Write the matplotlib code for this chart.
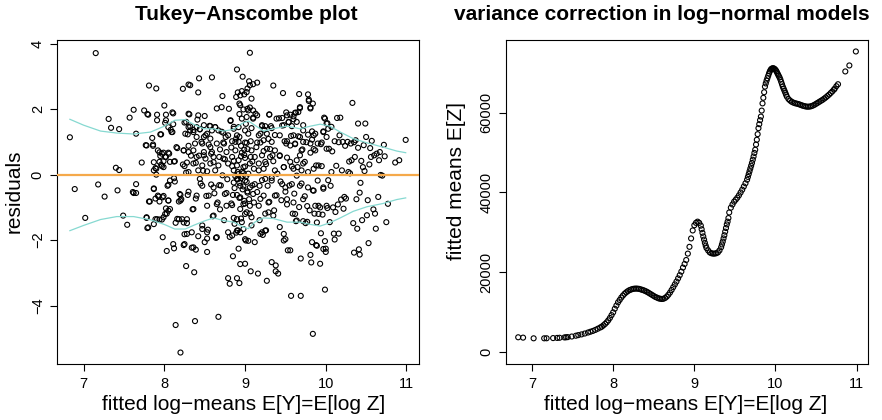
import matplotlib.pyplot as plt

plt.rcParams['font.family'] = ['Liberation Sans', 'DejaVu Sans']

# left panel: fitted log-means vs residuals
fitted_x = [
    6.83, 6.89, 7.02, 7.15, 7.18, 7.26, 7.31, 7.34, 7.40, 7.42,
    7.44, 7.44, 7.49, 7.54, 7.57, 7.62, 7.61, 7.65, 7.65, 7.65,
    7.72, 7.75, 7.77, 7.79, 7.81, 7.78, 7.79, 7.81,
    7.85, 7.86, 7.87, 7.89, 7.90, 7.91, 7.87, 7.89, 7.90, 7.91,
    7.93, 7.94, 7.95, 7.96, 7.97, 7.98, 7.99, 8.00, 8.01, 8.02,
    8.02, 8.03, 8.03, 8.05, 8.05, 8.06, 8.07, 8.08, 8.10, 8.10,
    8.11, 8.12, 8.12, 8.13, 8.14, 8.14, 8.15, 8.16, 8.18, 8.19,
    8.20, 8.21, 8.22, 8.23, 8.23, 8.24, 8.24, 8.25, 8.25, 8.26,
    8.27, 8.27, 8.28, 8.29, 8.30, 8.30, 8.31, 8.32, 8.33, 8.34,
    8.35, 8.36, 8.37, 8.38, 8.39, 8.39, 8.39, 8.41, 8.42, 8.42,
    8.43, 8.43, 8.44, 8.45, 8.46, 8.47, 8.48, 8.49, 8.50, 8.50,
    8.51, 8.52, 8.53, 8.53, 8.54, 8.56, 8.57, 8.58, 8.58, 8.59,
    8.60, 8.61, 8.62, 8.63, 8.64, 8.65, 8.66, 8.67, 8.68, 8.69,
    8.70, 8.71, 8.72, 8.72, 8.74, 8.74, 8.75, 8.76, 8.77, 8.78,
    8.79, 8.80, 8.81, 8.81, 8.82, 8.83, 8.83, 8.84, 8.85, 8.86,
    8.86, 8.87, 8.88, 8.89, 8.90, 8.90, 8.91, 8.91, 8.91, 8.92,
    8.93, 8.93, 8.93, 8.94, 8.95, 8.95, 8.96, 8.97, 8.97, 8.98,
    8.98, 8.99, 9.00, 9.00, 9.00, 9.01, 9.02, 9.02, 9.03, 9.03,
    9.04, 9.05, 9.06, 9.06, 9.07, 9.07, 9.08, 9.09, 9.10, 9.10,
    9.11, 9.11, 9.12, 9.13, 9.14, 9.15, 9.15, 9.16, 9.17, 9.18,
    9.19, 9.19, 9.21, 9.21, 9.22, 9.23, 9.24, 9.25, 9.26, 9.26,
    9.27, 9.28, 9.29, 9.30, 9.30, 9.31, 9.32, 9.33, 9.33, 9.34,
    9.35, 9.36, 9.37, 9.38, 9.38, 9.39, 9.40, 9.41, 9.42, 9.43,
    9.43, 9.44, 9.45, 9.46, 9.47, 9.48, 9.48, 9.49, 9.50, 9.51,
    9.52, 9.52, 9.53, 9.54, 9.55, 9.56, 9.57, 9.57, 9.58, 9.59,
    9.60, 9.61, 9.62, 9.62, 9.63, 9.64, 9.65, 9.66, 9.67, 9.67,
    9.68, 9.69, 9.69, 9.70, 9.71, 9.72, 9.72, 9.74, 9.74, 9.75,
    9.76, 9.77, 9.78, 9.78, 9.79, 9.80, 9.81, 9.81, 9.82, 9.83,
    9.83, 9.84, 9.84, 9.85, 9.86, 9.87, 9.88, 9.88, 9.89, 9.90,
    9.90, 9.91, 9.93, 9.94, 9.94, 9.95, 9.96, 9.97, 9.97, 9.98,
    9.99, 9.99, 10.00, 10.00, 10.01, 10.02, 10.02, 10.03, 10.04, 10.05,
    10.06, 10.07, 10.07, 10.08, 10.09, 10.10, 10.11, 10.11, 10.12, 10.13,
    10.14, 10.15, 10.16, 10.16, 10.17, 10.18, 10.19, 10.20, 10.21, 10.22,
    10.23, 10.24, 10.25, 10.27, 10.28, 10.29, 10.30, 10.31, 10.32, 10.33,
    10.34, 10.35, 10.35, 10.36, 10.37, 10.38, 10.39, 10.40, 10.40, 10.41,
    10.42, 10.42, 10.43, 10.44, 10.45, 10.46, 10.47, 10.48, 10.49, 10.50,
    10.51, 10.52, 10.53, 10.54, 10.55, 10.56, 10.57, 10.59, 10.60, 10.61,
    10.62, 10.63, 10.65, 10.66, 10.67, 10.68, 10.70, 10.72, 10.73, 10.75,
    10.77, 10.86, 10.91, 10.99,
    7.80, 8.11, 7.91, 8.02, 8.30, 8.27, 8.05, 8.11, 8.09, 8.30,
    7.96, 8.29, 7.78, 7.86, 8.16, 8.24, 8.30, 7.92, 7.99, 8.05,
    7.95, 8.01, 7.94, 7.99, 8.07, 8.13, 7.97, 8.25, 8.28, 7.90,
    7.87, 7.99, 8.30,
    8.32, 9.02, 9.06, 8.89, 8.94, 8.93, 8.98, 9.03, 9.10,
    9.15, 8.71, 8.82, 8.96, 9.02, 9.10, 8.42, 8.32, 8.40, 8.49,
    8.57, 8.63, 8.36, 8.44, 8.53, 8.59, 8.67, 8.73, 8.86, 8.92,
    9.00, 9.08, 8.40, 8.49, 8.57, 8.79, 8.90, 9.04, 9.17, 8.38,
    8.47, 8.55, 8.65, 8.73, 8.84, 8.92, 9.00, 9.15, 8.36, 8.49,
    8.59, 8.69, 8.77, 8.88, 8.96, 9.08, 8.40, 8.51, 8.61, 8.73,
    8.84, 8.92, 9.00, 9.12, 8.36, 8.47, 8.57, 8.67, 8.79, 8.90,
    8.98, 9.06, 8.42, 8.53, 8.63, 8.86, 8.96, 9.17,
    9.79, 9.84, 9.81, 9.68, 9.63, 9.66, 9.56, 9.52, 9.39, 9.46,
    9.60, 9.30, 9.54, 9.64, 9.99, 10.01, 9.97, 10.03, 9.21, 9.25,
    9.33, 9.48, 9.58, 9.72, 9.83, 9.19, 9.27, 9.43, 9.60, 9.68,
    9.78, 9.85, 9.23, 9.33, 9.52, 9.62, 9.72, 9.81, 9.95, 9.27,
    9.37, 9.51, 9.56, 9.70, 9.87, 10.01, 9.21, 9.31, 9.43, 9.68,
    9.81, 9.25, 9.35, 9.56, 9.64, 9.72, 9.91, 9.23, 9.37, 9.48,
    9.60, 9.70, 9.85,
    7.62, 7.87, 8.07, 8.12, 8.04, 7.92, 7.98, 7.82, 7.94, 8.05,
    8.20, 8.20, 8.30, 8.02, 8.05, 8.01, 7.99, 7.78, 7.89, 7.94,
    7.87, 7.80, 7.97, 8.18, 8.24, 8.28, 8.28, 8.25,
    8.44, 8.47, 8.61, 8.68, 8.75, 8.86, 8.90, 8.94, 9.00, 9.06,
    9.12, 9.18, 8.40, 8.55, 8.85, 8.94, 9.10, 8.36, 8.53, 8.65,
    8.77, 8.84, 8.98, 9.06, 9.17, 8.61, 8.90, 9.00, 9.08, 8.34,
    8.47, 8.53, 8.65, 8.79, 8.84, 8.90, 8.94, 9.00, 9.04, 9.19,
    8.36, 8.94,
    9.25, 9.33, 9.46, 9.50, 9.58, 9.68, 9.78, 9.85, 9.97, 9.23,
    9.37, 9.52, 9.60, 9.72, 9.87, 9.93, 10.01, 9.29, 9.29, 9.35,
    9.62, 9.64, 9.77, 9.91, 9.21, 9.25, 9.48, 9.50, 9.89, 9.97,
    8.88, 8.92, 8.95, 8.98, 9.01, 9.04, 8.93, 8.97, 9.03, 8.90,
    8.99, 9.05, 8.94, 9.02, 8.96, 8.87, 9.08, 8.91, 8.86, 9.09,
    8.99, 9.03, 8.95, 9.07, 8.89, 9.01, 8.93, 9.06, 8.99,
]
resid_y = [
    1.14, -0.44, -1.32, 3.71, -0.30, -0.67, 1.70, 1.43, 0.21, -0.48,
    1.39, 0.14, -1.25, -1.53, 1.74, 1.98, -0.53, -0.29, -0.56, 1.25,
    0.37, 1.96, 0.90, 1.85, 2.72, -1.32, -1.63, -0.82,
    1.12, 0.88, 0.38, 0.20, 2.63, 1.83, -0.44, -0.73, 0.00, -1.36,
    -0.67, 0.68, 1.23, 0.30, 0.64, -1.91, -0.65, 2.11, 1.58, 1.83,
    0.54, -2.33, -1.19, -0.79, -0.31, 0.64, -1.05, 1.37, 1.30, 1.90,
    -2.12, -2.25, 0.40, -0.21, -1.47, -4.59, 0.84, -1.35, -0.82, -0.59,
    -5.43, -0.75, -1.36, 2.62, 0.31, 0.74, -2.15, -1.82, 1.59, 1.25,
    0.06, -2.79, -1.48, -0.62, 2.75, 0.88, 1.84, 1.47, 0.58, -2.23,
    -1.06, 1.36, -2.98, -4.47, 0.36, -0.73, -2.29, 1.68, -1.88, 2.51,
    2.94, 0.58, 1.39, -0.27, 1.00, -1.55, 0.12, 0.59, 1.79, -2.06,
    1.20, -0.65, -2.36, -1.95, -1.68, 1.49, 0.84, 0.64, -0.30, 2.97,
    -1.27, 0.38, -0.57, 1.45, -1.93, 2.02, -0.85, -4.34, 0.54, -1.06,
    -0.33, 1.31, -0.02, 2.40, 0.95, -1.39, 0.47, 1.15, -0.56, -0.14,
    -3.16, 2.01, -3.33, -1.90, 1.64, -0.88, 0.83, 0.26, -2.49, 1.46,
    -1.32, -0.41, 1.00, -1.77, 3.21, -3.16, 2.51, -0.14, 0.08, -2.26,
    -0.71, -3.31, 1.15, 2.12, 0.56, -1.34, 2.55, 2.99, -0.04, -0.36,
    -1.66, 0.76, -2.72, 0.25, -0.88, -2.01, -0.22, 0.97, 2.63, -0.51,
    1.96, 2.85, 3.72, -1.19, 0.54, -2.95, 2.32, -0.33, 1.74, 2.76,
    -0.85, 0.18, -2.06, 1.86, 0.84, 2.81, -0.53, -3.02, 0.34, -1.39,
    0.98, -0.74, -0.17, 1.48, -1.84, 0.72, 1.37, -1.19, 0.32, -1.70,
    -3.24, -0.34, 1.09, 1.84, -0.83, 0.78, 1.48, -2.67, -0.10, 0.59,
    2.72, -1.09, 1.21, -2.95, -2.77, -0.63, 0.03, -3.02, 1.72, -1.60,
    0.57, -0.21, -0.78, 1.50, 2.49, -2.01, 0.23, 1.02, -0.52, 1.90,
    -0.91, 0.52, -2.31, 1.60, -0.33, -2.31, 1.18, -3.70, 0.25, -1.19,
    1.78, -0.58, 0.93, 1.89, -1.42, -0.03, 0.23, 1.17, -0.99, 2.46,
    2.03, -2.56, -3.70, -0.27, 0.77, -1.42, 1.35, 0.39, -0.66, -1.48,
    0.99, -0.96, 0.08, 2.45, 2.29, -1.09, 2.02, -2.45, -2.68, -2.06,
    1.07, -4.86, -0.48, 0.78, -1.19, 1.25, -2.15, 0.28, -1.46, -0.18,
    0.95, -0.95, -2.72, -1.79, 0.93, 0.26, -1.22, 1.32, -0.43, 1.74,
    -3.51, -2.03, -2.26, -2.36, 1.15, -1.02, 1.57, -0.17, 0.79, -1.45,
    -0.34, 1.46, 0.08, 0.71, -1.00, -1.80, 1.02, -1.98, -1.14, 0.27,
    1.73, -0.91, 0.99, -1.80, 1.20, 1.74, -0.76, 0.13, 1.00, -1.04,
    -0.68, 0.88, -0.73, 1.00, 0.08, 0.40, 0.04, 0.95, 0.44, 2.19,
    -1.48, 0.99, -2.38, 0.54, 1.05, -0.75, -1.65, 1.56, 0.82, -2.28,
    -2.44, -0.55, -0.25, 0.42, -1.39, 0.23, 0.90, 0.11, 1.56, 1.15,
    -1.24, -0.78, -2.09, 0.31, 0.81, 0.54, 1.03, -1.06, 0.59, -1.19,
    -1.65, 0.64, -0.68, 0.44, 0.69, -0.01, -0.03, 0.91, 0.56, -1.45,
    -0.89, 0.37, 0.44, 1.06,
    1.83, 1.87, 1.66, 1.66, 1.86, 1.61, 1.45, 1.54, 1.30, 1.45,
    1.23, 1.23, 0.89, 0.92, 0.81, 0.74, 0.69, 0.74, 0.67, 0.67,
    0.57, 0.54, 0.39, 0.41, 0.39, 0.41, 0.26, 0.26, 0.37, 0.18,
    0.13, 0.23, 0.08,
    2.73, 2.52, 2.73, 2.37, 2.42, 2.17, 1.99, 2.01, 1.96,
    1.81, 2.06, 1.66, 1.71, 1.76, 1.71, 1.81, 1.35, 1.45, 1.51,
    1.48, 1.45, 1.30, 1.38, 1.25, 1.35, 1.35, 1.28, 1.40, 1.45,
    1.35, 1.42, 1.15, 1.15, 1.10, 1.20, 1.20, 1.25, 1.20, 0.95,
    0.95, 0.92, 0.95, 0.98, 1.02, 1.00, 0.98, 0.98, 0.74, 0.69,
    0.69, 0.77, 0.69, 0.74, 0.67, 0.74, 0.54, 0.49, 0.54, 0.49,
    0.54, 0.44, 0.51, 0.54, 0.34, 0.28, 0.34, 0.28, 0.34, 0.28,
    0.23, 0.34, 0.13, 0.10, 0.13, 0.13, 0.08, 0.13,
    2.25, 2.17, 2.05, 2.06, 1.89, 1.91, 1.83, 1.81, 1.71, 1.73,
    1.69, 1.83, 1.61, 1.61, 1.71, 1.56, 1.30, 1.40, 1.51, 1.48,
    1.42, 1.51, 1.48, 1.51, 1.32, 1.25, 1.25, 1.20, 1.20, 1.15,
    1.22, 1.20, 1.05, 1.00, 1.02, 0.95, 1.00, 0.95, 0.98, 0.79,
    0.74, 0.95, 0.89, 0.74, 0.74, 0.79, 0.59, 0.54, 0.59, 0.59,
    0.67, 0.39, 0.41, 0.39, 0.44, 0.34, 0.28, 0.18, 0.13, 0.23,
    0.18, 0.13, 0.18,
    -0.56, -0.42, -0.18, -0.11, -0.34, -0.64, -0.69, -0.82, -0.82, -0.79,
    -0.62, -0.79, -0.52, -1.03, -1.10, -1.20, -1.30, -1.30, -1.36, -1.37,
    -1.51, -1.61, -1.37, -1.36, -1.46, -1.36, -1.81, -2.12,
    -0.13, -0.34, -0.39, -0.32, -0.59, -0.24, -0.13, -0.34, -0.18, -0.39,
    -0.29, -0.34, -0.64, -0.64, -0.62, -0.69, -0.59, -1.05, -0.95, -0.90,
    -0.95, -0.93, -0.90, -0.95, -0.95, -1.25, -1.36, -1.20, -1.30, -1.76,
    -1.66, -1.76, -1.91, -1.76, -1.86, -1.71, -1.76, -1.97, -2.02, -1.81,
    -2.22, -2.73,
    -0.13, -0.18, -0.29, -0.39, -0.29, -0.34, -0.39, -0.49, -0.39, -0.64,
    -0.64, -0.75, -0.85, -0.75, -0.95, -1.00, -0.95, -0.85, -1.15, -1.25,
    -1.20, -1.40, -1.44, -1.20, -1.76, -1.71, -1.81, -1.97, -2.17, -2.27,
    -0.05, 0.02, -0.10, 0.05, -0.06, 0.03, -0.25, -0.45, -0.55, -0.62,
    -0.80, -0.75, -1.05, -1.15, -1.45, -1.50, -1.55, -1.70, 0.42, 0.40,
    0.60, 0.78, 0.88, 1.02, 1.10, 1.55, 1.85, 2.05, 2.45,
]

# smoothed +/- spread bands
band_x = [6.83, 7.00, 7.21, 7.41, 7.62, 7.83, 8.00, 8.13, 8.26, 8.36,
          8.49, 8.61, 8.73, 8.86, 8.96, 9.04, 9.12, 9.23, 9.35, 9.52,
          9.68, 9.81, 9.93, 10.05, 10.18, 10.34, 10.51, 10.71, 10.88, 10.99]
band_upper = [1.69, 1.51, 1.33, 1.27, 1.24, 1.30, 1.48, 1.66, 1.68, 1.54,
              1.40, 1.40, 1.33, 1.38, 1.56, 1.64, 1.51, 1.33, 1.40, 1.48,
              1.40, 1.48, 1.54, 1.48, 1.30, 1.10, 0.97, 0.84, 0.72, 0.67]
band_lower = [-1.71, -1.55, -1.37, -1.28, -1.28, -1.38, -1.52, -1.66, -1.66, -1.55,
              -1.42, -1.32, -1.40, -1.45, -1.58, -1.65, -1.45, -1.32, -1.34, -1.45,
              -1.45, -1.52, -1.57, -1.47, -1.32, -1.12, -0.98, -0.88, -0.76, -0.71]

# right panel: fitted means E[Z] against fitted log-means
mean_x = [
    6.83, 6.89, 7.02, 7.15, 7.18, 7.26, 7.31, 7.34, 7.40, 7.42,
    7.44, 7.49, 7.54, 7.57, 7.61, 7.65, 7.69, 7.72, 7.75, 7.78,
    7.81, 7.84, 7.86, 7.88, 7.90, 7.92, 7.94, 7.96, 7.98, 8.00,
    8.02, 8.04, 8.06, 8.08, 8.10, 8.12, 8.14, 8.16, 8.18, 8.20,
    8.22, 8.24, 8.26, 8.28, 8.30, 8.32, 8.34, 8.36, 8.38, 8.40,
    8.42, 8.44, 8.46, 8.48, 8.50, 8.52, 8.54, 8.56, 8.58, 8.60,
    8.62, 8.64, 8.66, 8.68, 8.70, 8.72, 8.74, 8.76, 8.78, 8.80,
    8.82, 8.84, 8.86, 8.88, 8.90, 8.92, 8.94, 8.96, 8.98, 9.00,
    9.02, 9.04, 9.06, 9.08, 9.09, 9.10, 9.11, 9.12, 9.13, 9.14,
    9.15, 9.17, 9.19, 9.21, 9.23, 9.25, 9.27, 9.29, 9.31, 9.33,
    9.34, 9.35, 9.36, 9.37, 9.38, 9.39, 9.40, 9.41, 9.42, 9.43,
    9.45, 9.47, 9.49, 9.51, 9.53, 9.55, 9.57, 9.59, 9.61, 9.63,
    9.65, 9.66, 9.67, 9.68, 9.69, 9.70, 9.71, 9.72, 9.73, 9.74,
    9.75, 9.76, 9.77, 9.78, 9.79, 9.80, 9.81, 9.82, 9.83, 9.84,
    9.85, 9.86, 9.87, 9.88, 9.89, 9.90, 9.91, 9.92, 9.93, 9.94,
    9.95, 9.96, 9.97, 9.98, 9.99, 10.00, 10.01, 10.02, 10.03, 10.04,
    10.05, 10.06, 10.07, 10.08, 10.09, 10.10, 10.11, 10.12, 10.13, 10.14,
    10.16, 10.18, 10.20, 10.22, 10.24, 10.26, 10.28, 10.30, 10.32, 10.34,
    10.36, 10.38, 10.40, 10.42, 10.44, 10.46, 10.48, 10.50, 10.52, 10.54,
    10.56, 10.58, 10.60, 10.62, 10.64, 10.66, 10.68, 10.70, 10.72, 10.73,
    10.75, 10.77, 10.86, 10.91, 10.99,
]
mean_z = [
    3760, 3670, 3500, 3500, 3510, 3560, 3600, 3640, 3720, 3760,
    3800, 3950, 4150, 4300, 4480, 4700, 4950, 5150, 5350, 5600,
    5900, 6200, 6420, 6750, 7100, 7500, 8000, 8600, 9300, 10000,
    10900, 11700, 12500, 13100, 13700, 14200, 14650, 15000, 15300, 15550,
    15700, 15850, 15920, 15950, 15930, 15870, 15750, 15620, 15480, 15300,
    15100, 14850, 14600, 14350, 14100, 13850, 13680, 13500, 13400, 13350,
    13400, 13600, 13930, 14400, 14950, 15600, 16300, 17000, 17700, 18500,
    19300, 20200, 21200, 22100, 23100, 24700, 26400, 28500, 30500, 31800,
    32400, 32700, 32400, 31700, 30800, 29900, 29000, 28200, 27400, 26700,
    26100, 25500, 25000, 24800, 24700, 24700, 24800, 25000, 25500, 26300,
    27000, 27700, 28500, 29300, 30200, 31100, 32000, 32700, 33600, 35000,
    36200, 37000, 37700, 38200, 38700, 39300, 40000, 40700, 41500, 42300,
    43200, 43900, 44600, 45300, 46000, 46700, 47400, 48200, 49000, 49900,
    50700, 52000, 53200, 54600, 56100, 57100, 58100, 59000, 60500, 62300,
    63700, 65100, 66500, 67300, 68000, 68600, 69200, 69800, 70300, 70700,
    70950, 71050, 71100, 71050, 70900, 70700, 70400, 70000, 69600, 69200,
    68800, 68300, 67700, 67100, 66500, 66000, 65500, 65000, 64500, 64000,
    63400, 63000, 62700, 62500, 62350, 62250, 62150, 62000, 61850, 61700,
    61600, 61500, 61480, 61500, 61600, 61750, 61950, 62200, 62450, 62700,
    62950, 63200, 63500, 63800, 64150, 64500, 64900, 65300, 65750, 66000,
    66600, 67100, 70300, 71800, 75300,
]

x_ticks = [7, 8, 9, 10, 11]
resid_ticks = [-4, -2, 0, 2, 4]
mean_ticks = [0, 20000, 40000, 60000]

W, H = 882, 420
fig = plt.figure(figsize=(W / 100, H / 100), dpi=100)
ax1 = fig.add_axes([57.3 / W, 56 / H, 361.7 / W, 324 / H])
ax2 = fig.add_axes([505.7 / W, 56 / H, 362 / W, 324 / H])

ax1.scatter(fitted_x, resid_y, s=13, facecolors='none', edgecolors='black',
            linewidths=0.8, zorder=2)
ax1.plot(band_x, band_upper, color='#86d9d1', lw=0.9, zorder=3)
ax1.plot(band_x, band_lower, color='#86d9d1', lw=0.9, zorder=3)
ax1.axhline(0, color='#f5a94a', lw=1.6, zorder=4)
ax1.set_xlim(6.674, 11.155)
ax1.set_ylim(-5.78, 4.11)
ax1.set_xticks(x_ticks)
ax1.set_yticks(resid_ticks)

ax2.scatter(mean_x, mean_z, s=13, facecolors='none', edgecolors='black',
            linewidths=0.8)
ax2.set_xlim(6.676, 11.136)
ax2.set_ylim(-2930, 78170)
ax2.set_xticks(x_ticks)
ax2.set_yticks(mean_ticks)

for ax in (ax1, ax2):
    for sp in ax.spines.values():
        sp.set_linewidth(0.8)
    ax.tick_params(direction='out', length=5, width=0.8, labelsize=10.5,
                   colors='black')
    ax.tick_params(axis='x', pad=4)
    ax.tick_params(axis='y', labelrotation=90, pad=4)
    for lbl in ax.get_yticklabels():
        lbl.set_va('center')

fig.text(246 / W, 1 - 20 / H, 'Tukey\u2212Anscombe plot', ha='center',
         va='baseline', fontsize=15, fontweight='bold')
fig.text(662 / W, 1 - 20 / H, 'variance correction in log\u2212normal models',
         ha='center', va='baseline', fontsize=15, fontweight='bold')
fig.text(244 / W, 1 - 405 / H, 'fitted log\u2212means E[Y]=E[log Z]',
         ha='center', va='center', fontsize=15)
fig.text(686 / W, 1 - 405 / H, 'fitted log\u2212means E[Y]=E[log Z]',
         ha='center', va='center', fontsize=15)
fig.text(14 / W, 1 - 191 / H, 'residuals', rotation=90, ha='center',
         va='center', fontsize=15)
fig.text(457 / W, 1 - 181 / H, 'fitted means E[Z]', rotation=90, ha='center',
         va='center', fontsize=15)

fig.savefig('out.png', dpi=100)
